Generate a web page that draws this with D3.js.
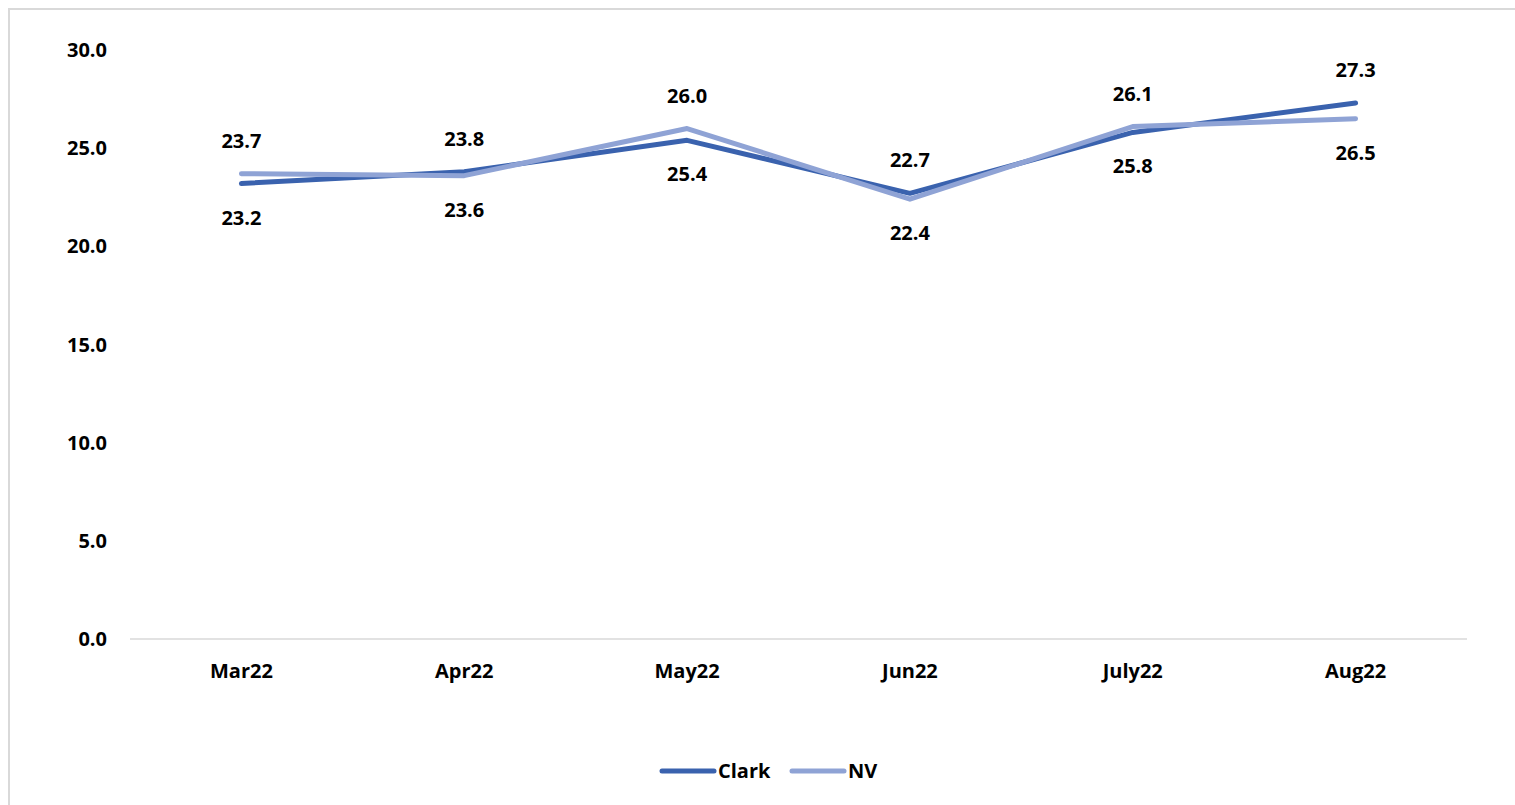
<!DOCTYPE html>
<meta charset="utf-8">
<style>
    body { margin: 0; background: #fff; }
    text { font-family: "Open Sans", "Noto Sans", sans-serif; font-weight: 700; fill: #000; }
    .line { fill: none; stroke-width: 5; stroke-linecap: round; stroke-linejoin: round; }
</style>
<body>
<script src="https://cdn.jsdelivr.net/npm/d3@7"></script>
<script>
    var months = ["Mar22", "Apr22", "May22", "Jun22", "July22", "Aug22"];
    var clark = [23.2, 23.8, 25.4, 22.7, 25.8, 27.3];
    var nv = [23.7, 23.6, 26.0, 22.4, 26.1, 26.5];
    var yTicks = [0, 5, 10, 15, 20, 25, 30];

    var series = [
        {name: "Clark", values: clark, color: "#3a62ae"},
        {name: "NV", values: nv, color: "#8fa3d5"}
    ];

    var W = 1515, H = 805;
    var margin = {top: 50, right: 48, bottom: 166, left: 130};
    var fs = "20px";

    var svg = d3.select("body").append("svg")
        .attr("width", W)
        .attr("height", H);

    // frame: only top and left edges fall inside the picture
    svg.append("rect")
        .attr("x", 9).attr("y", 9)
        .attr("width", W + 20).attr("height", H + 20)
        .attr("fill", "none").attr("stroke", "#d9d9d9").attr("stroke-width", 2);

    var x = d3.scaleBand()
        .domain(months)
        .range([margin.left, W - margin.right]);

    var y = d3.scaleLinear()
        .domain([0, 30])
        .range([H - margin.bottom, margin.top]);

    // y tick labels (no axis line)
    svg.append("g").selectAll("text")
        .data(yTicks)
        .enter().append("text")
        .attr("x", 107)
        .attr("y", function(d) { return y(d); })
        .attr("dy", "0.35em")
        .attr("text-anchor", "end")
        .style("font-size", fs)
        .text(function(d) { return d.toFixed(1); });

    // x axis
    svg.append("line")
        .attr("x1", margin.left).attr("x2", W - margin.right)
        .attr("y1", y(0)).attr("y2", y(0))
        .attr("stroke", "#d9d9d9").attr("stroke-width", 1.5);

    svg.append("g").selectAll("text")
        .data(months)
        .enter().append("text")
        .attr("x", function(d) { return x(d) + x.bandwidth() / 2; })
        .attr("y", y(0) + 32)
        .attr("dy", "0.35em")
        .attr("text-anchor", "middle")
        .style("font-size", fs)
        .text(function(d) { return d; });

    var line = d3.line()
        .x(function(d, i) { return x(months[i]) + x.bandwidth() / 2; })
        .y(function(d) { return y(d); });

    series.forEach(function(s) {
        svg.append("path")
            .attr("class", "line")
            .attr("stroke", s.color)
            .attr("d", line(s.values));
    });

    // data labels: higher value above, lower below
    series.forEach(function(s, k) {
        var other = series[1 - k].values;
        svg.append("g").selectAll("text")
            .data(s.values)
            .enter().append("text")
            .attr("x", function(d, i) { return x(months[i]) + x.bandwidth() / 2; })
            .attr("y", function(d, i) { return d >= other[i] ? y(d) - 33 : y(d) + 34; })
            .attr("dy", "0.35em")
            .attr("text-anchor", "middle")
            .style("font-size", fs)
            .text(function(d) { return d.toFixed(1); });
    });

    // legend
    var legend = svg.append("g");
    var lx = [662, 792];
    series.forEach(function(s, k) {
        legend.append("line")
            .attr("x1", lx[k]).attr("x2", lx[k] + 52)
            .attr("y1", 771).attr("y2", 771)
            .attr("stroke", s.color).attr("stroke-width", 5)
            .attr("stroke-linecap", "round");
        legend.append("text")
            .attr("x", lx[k] + 56)
            .attr("y", 771)
            .attr("dy", "0.35em")
            .style("font-size", fs)
            .text(s.name);
    });
</script>
</body>
